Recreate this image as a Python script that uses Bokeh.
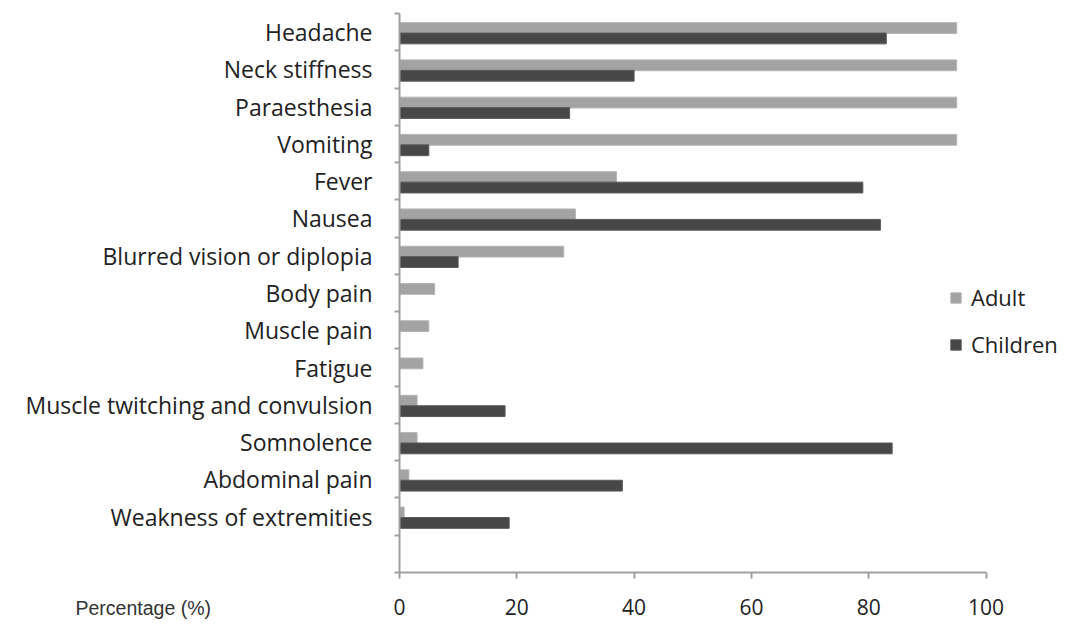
from bokeh.plotting import figure
from bokeh.models import (Range1d, FixedTicker, Legend, LegendItem, Label, ColumnDataSource)
from bokeh.embed import file_html
from bokeh.resources import INLINE

categories = ["Headache", "Neck stiffness", "Paraesthesia", "Vomiting", "Fever", "Nausea",
              "Blurred vision or diplopia", "Body pain", "Muscle pain", "Fatigue",
              "Muscle twitching and convulsion", "Somnolence", "Abdominal pain",
              "Weakness of extremities"]
adult = [95, 95, 95, 95, 37, 30, 28, 6, 5, 4, 3, 3, 1.6, 0.8]
children = [83, 40, 29, 5, 79, 82, 10, 0, 0, 0, 18, 84, 38, 18.7]
x_ticks = [0, 20, 40, 60, 80, 100]

n = len(categories)
n_slots = n + 1  # one empty slot at the bottom
centers = [n_slots - i - 0.5 for i in range(n)]
BAR_H = 0.29
OFF = 0.13

src = ColumnDataSource(dict(
    cat=categories,
    adult=adult,
    children=children,
    y_adult=[c + OFF - 0.02 for c in centers],
    y_child=[c - OFF - 0.04 for c in centers],
))

# layout in pixels: the frame covers the whole canvas, axes are pinned at 0
W, H = 1066, 622
AXIS_X = 399          # pixel column of the y axis line
AXIS_Y = 572          # pixel row of the x axis line
TOP = 13              # pixel row of the top of the y axis
px_per_unit = 586.5 / 100.0
px_per_slot = (AXIS_Y - TOP) / n_slots

x_range = Range1d(-AXIS_X / px_per_unit, (W - AXIS_X) / px_per_unit)
y_range = Range1d(-(H - AXIS_Y) / px_per_slot, n_slots + TOP / px_per_slot)

p = figure(width=W, height=H, output_backend="svg", toolbar_location=None,
           x_range=x_range, y_range=y_range, min_border=0,
           min_border_left=0, min_border_right=0, min_border_top=0,
           min_border_bottom=0)
p.outline_line_color = None
p.xgrid.visible = False
p.ygrid.visible = False
p.background_fill_color = "white"
p.border_fill_color = "white"

r_adult = p.hbar(y="y_adult", right="adult", left=0, height=BAR_H, source=src,
                 fill_color="#a3a3a3", line_color="#b5b5b5", line_width=1)
r_child = p.hbar(y="y_child", right="children", left=0, height=BAR_H, source=src,
                 fill_color="#474747", line_color="#5a5a5a", line_width=1)

# x axis, pinned at y = 0
xa = p.xaxis[0]
xa.fixed_location = 0
xa.ticker = FixedTicker(ticks=x_ticks)
xa.bounds = (0, 100)
xa.axis_line_color = "#a0a0a0"
xa.axis_line_width = 2
xa.major_tick_line_color = "#a0a0a0"
xa.major_tick_line_width = 2
xa.major_tick_out = 6
xa.major_tick_in = 0
xa.minor_tick_line_color = None
xa.major_label_text_font = "Open Sans"
xa.major_label_text_font_size = "21px"
xa.major_label_text_color = "#222222"
xa.major_label_standoff = 20

# y axis pinned at x = 0: labels at slot centers, ticks at slot boundaries
ya = p.yaxis[0]
ya.fixed_location = 0
ya.ticker = FixedTicker(ticks=centers, minor_ticks=list(range(0, n_slots + 1)))
ya.bounds = (0, n_slots)
ya.major_label_overrides = {c: name for c, name in zip(centers, categories)}
ya.axis_line_color = "#a0a0a0"
ya.axis_line_width = 2
ya.major_tick_line_color = None
ya.major_tick_out = 0
ya.major_tick_in = 0
ya.minor_tick_line_color = "#a0a0a0"
ya.minor_tick_line_width = 2
ya.minor_tick_out = 5
ya.minor_tick_in = 0
ya.major_label_text_font = "Open Sans"
ya.major_label_text_font_size = "23px"
ya.major_label_text_color = "#222222"
ya.major_label_standoff = 22

legend = Legend(items=[LegendItem(label="Adult", renderers=[r_adult]),
                       LegendItem(label="Children", renderers=[r_child])],
                location=(949, H - 359), orientation="vertical",
                border_line_alpha=0, background_fill_alpha=0,
                padding=0, margin=0, spacing=17,
                glyph_width=13, glyph_height=13, label_standoff=9,
                label_text_font="Open Sans", label_text_font_size="22px",
                label_text_color="#222222", label_height=26)
p.add_layout(legend)

p.add_layout(Label(x=75, y=H - 607, x_units="screen", y_units="screen",
                   text="Percentage (%)", text_font="Liberation Sans",
                   text_font_size="19.5px", text_color="#333333",
                   text_baseline="middle", text_align="left"))

open("out.html", "w").write(file_html(p, INLINE))
